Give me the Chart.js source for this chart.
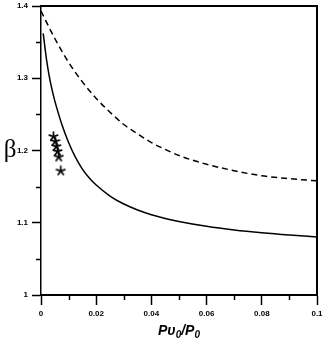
<!DOCTYPE html>
<html>
<head>
<meta charset="utf-8">
<script src="https://cdn.jsdelivr.net/npm/chart.js@4"></script>
<style>
  html, body { margin: 0; padding: 0; background: #fff; }
  canvas { display: block; }
</style>
</head>
<body>
<canvas id="betaChart" width="323" height="338"></canvas>
<script>
// solid curve
const solidX = [0.0008, 0.002, 0.003, 0.004, 0.005, 0.0066, 0.0075, 0.01, 0.0125, 0.015, 0.0175, 0.02, 0.025, 0.03, 0.035, 0.04, 0.045, 0.05, 0.06, 0.07, 0.08, 0.09, 0.1];
const solidY = [1.362, 1.3259, 1.3027, 1.2842, 1.2687, 1.2476, 1.2368, 1.2111, 1.1905, 1.1743, 1.1620, 1.1522, 1.1370, 1.1259, 1.1177, 1.1112, 1.1060, 1.1018, 1.0950, 1.0899, 1.0860, 1.0829, 1.0804];

// dashed curve
const dashedX = [0, 0.005, 0.01, 0.015, 0.02, 0.025, 0.03, 0.035, 0.04, 0.045, 0.05, 0.06, 0.07, 0.08, 0.09, 0.1];
const dashedY = [1.393, 1.355, 1.322, 1.295, 1.272, 1.253, 1.236, 1.223, 1.211, 1.2015, 1.193, 1.181, 1.172, 1.165, 1.161, 1.158];

// star markers
const starX = [0.0045, 0.0051, 0.00554, 0.006, 0.00645, 0.00717];
const starY = [1.2193, 1.2124, 1.2055, 1.1986, 1.191, 1.1717];

const xTickLabels = ['0', '0.02', '0.04', '0.06', '0.08', '0.1'];
const yTickLabels = ['1', '1.1', '1.2', '1.3', '1.4'];
const xMinorTicks = [0.01, 0.03, 0.05, 0.07, 0.09];
const yMinorTicks = [1.05, 1.15, 1.25, 1.35];

const toPoints = (xs, ys) => xs.map((x, i) => ({x: x, y: ys[i]}));

// little 5-armed asterisk used as point style
const star = document.createElement('canvas');
star.width = 11;
star.height = 11;
const sctx = star.getContext('2d');
sctx.strokeStyle = '#000';
sctx.lineWidth = 1.7;
sctx.lineCap = 'round';
for (let k = 0; k < 5; k++) {
    const a = -Math.PI / 2 + k * 2 * Math.PI / 5;
    sctx.beginPath();
    sctx.moveTo(5.5, 5.5);
    sctx.lineTo(5.5 + 4.4 * Math.cos(a), 5.5 + 4.4 * Math.sin(a));
    sctx.stroke();
}

const framePlugin = {
    id: 'frame',
    afterDraw(chart) {
        const {ctx, chartArea: a, scales: {x, y}} = chart;
        ctx.save();
        ctx.strokeStyle = '#000';
        ctx.lineWidth = 2;
        ctx.beginPath();
        ctx.moveTo(a.left, a.top);
        ctx.lineTo(a.right, a.top);
        ctx.lineTo(a.right, a.bottom);
        ctx.stroke();

        // minor ticks
        ctx.lineWidth = 1.5;
        ctx.beginPath();
        xMinorTicks.forEach(v => {
            const px = Math.round(x.getPixelForValue(v)) + 0.5;
            ctx.moveTo(px, a.bottom);
            ctx.lineTo(px, a.bottom + 5);
        });
        yMinorTicks.forEach(v => {
            const py = Math.round(y.getPixelForValue(v)) + 0.5;
            ctx.moveTo(a.left, py);
            ctx.lineTo(a.left - 5, py);
        });
        ctx.stroke();

        // y title (upright beta)
        ctx.fillStyle = '#000';
        ctx.textAlign = 'center';
        ctx.textBaseline = 'middle';
        ctx.font = '25px "Liberation Serif"';
        ctx.fillText('β', 10, y.getPixelForValue(1.2));

        // x title with subscripts
        const big = 'italic bold 14px "Liberation Sans"';
        const small = 'italic bold 10px "Liberation Sans"';
        const parts = [['P', big, 0], ['υ', big, 0], ['0', small, 3], ['/P', big, 0], ['0', small, 3]];
        let total = 0;
        parts.forEach(p => { ctx.font = p[1]; total += ctx.measureText(p[0]).width; });
        let cx = (a.left + a.right) / 2 - total / 2;
        ctx.textAlign = 'left';
        ctx.textBaseline = 'alphabetic';
        parts.forEach(p => {
            ctx.font = p[1];
            ctx.fillText(p[0], cx, 335 + p[2]);
            cx += ctx.measureText(p[0]).width;
        });
        ctx.restore();
    }
};

const tickFont = {family: '"Liberation Sans", Arial', size: 8, weight: 'bold'};

new Chart(document.getElementById('betaChart'), {
    type: 'line',
    data: {
        datasets: [
            {data: toPoints(solidX, solidY), borderColor: '#000', borderWidth: 1.5, pointRadius: 0,
             cubicInterpolationMode: 'monotone', fill: false},
            {data: toPoints(dashedX, dashedY), borderColor: '#000', borderWidth: 1.5, borderDash: [6, 4], pointRadius: 0,
             cubicInterpolationMode: 'monotone', fill: false},
            {type: 'scatter', data: toPoints(starX, starY), pointStyle: star, pointRadius: 5, showLine: false}
        ]
    },
    options: {
        responsive: false,
        animation: false,
        devicePixelRatio: 1,
        layout: {padding: {left: 0, top: 5, right: 6, bottom: 0}},
        plugins: {legend: {display: false}, tooltip: {enabled: false}},
        scales: {
            x: {
                type: 'linear', min: 0, max: 0.1,
                afterFit: s => { s.height = 43; s.paddingLeft = 0; s.paddingRight = 0; },
                border: {display: true, color: '#000', width: 2},
                grid: {drawOnChartArea: false, drawTicks: true, tickLength: 10, tickColor: '#000', tickWidth: 1.5},
                ticks: {stepSize: 0.02, color: '#000', font: tickFont, padding: 4, maxRotation: 0,
                        callback: (v, i) => xTickLabels[i]}
            },
            y: {
                type: 'linear', min: 1, max: 1.4,
                afterFit: s => { s.width = 41; s.paddingTop = 0; s.paddingBottom = 0; },
                border: {display: true, color: '#000', width: 1.5},
                grid: {drawOnChartArea: false, drawTicks: true, tickLength: 9, tickColor: '#000', tickWidth: 1.5},
                ticks: {stepSize: 0.1, color: '#000', font: tickFont, padding: 4,
                        callback: (v, i) => yTickLabels[i]}
            }
        }
    },
    plugins: [framePlugin]
});
</script>
</body>
</html>
